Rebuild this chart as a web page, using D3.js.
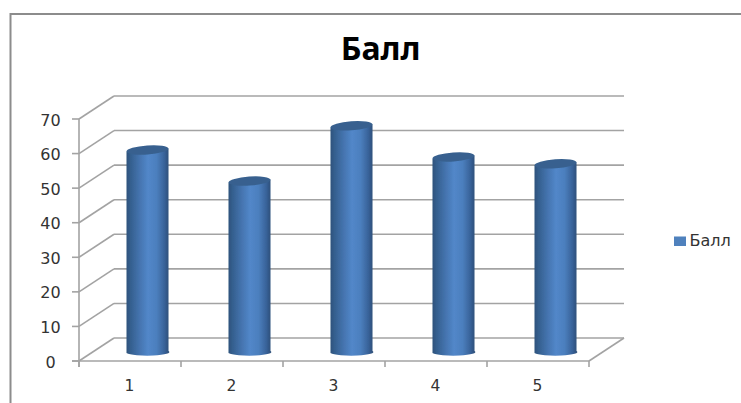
<!DOCTYPE html>
<html><head><meta charset="utf-8">
<script src="https://cdn.jsdelivr.net/npm/d3@7"></script>
<style>html,body{margin:0;padding:0;background:#fff}svg{display:block}</style>
</head><body><svg id="c" width="741" height="403"></svg>
<script>
const categories = ["1","2","3","4","5"];
const values = [58,49,65,56,54];
const yTicks = [0,10,20,30,40,50,60,70];
const seriesName = "Балл";

const svg = d3.select("#c");
const x = d3.scaleBand().domain(categories).range([79,589]);
const y = d3.scaleLinear().domain([0,70]).range([361,119]);
const dx = 35, dy = -23;
const grid = "#a3a3a3";
const defs = svg.append("defs");
const g = defs.append("linearGradient").attr("id","cyl");
[[0,"#2e517c"],[0.1,"#35608f"],[0.3,"#4473ae"],[0.5,"#5287c9"],[0.7,"#4c7fbe"],[0.88,"#38639a"],[1,"#2c4c75"]]
 .forEach(s=>g.append("stop").attr("offset",s[0]).attr("stop-color",s[1]));
const blur = defs.append("filter").attr("id","soft").attr("x","-10%").attr("y","-5%").attr("width","120%").attr("height","110%");
blur.append("feGaussianBlur").attr("stdDeviation",0.4);

svg.append("path").attr("d","M10.5,403V14H741").attr("fill","none").attr("stroke","#8c8c8c").attr("stroke-width",2);

svg.append("text").attr("x",380.5).attr("y",60).attr("text-anchor","middle")
 .attr("font-family","'Noto Sans'").attr("font-weight",700).attr("font-size",32).attr("fill","#000").text(seriesName);

const line=(a,b,c,d)=>svg.append("line").attr("x1",a).attr("y1",b).attr("x2",c).attr("y2",d).attr("stroke",grid).attr("stroke-width",1.6);
yTicks.forEach(t=>{
  const py=y(t);
  line(72,py,79,py);
  line(79,py,79+dx,py+dy);
  line(79+dx,py+dy,589+dx,py+dy);
  svg.append("text").attr("x",50.5).attr("y",py+6.5).attr("text-anchor","middle")
    .attr("font-family","'DejaVu Sans'").attr("font-size",16).attr("fill","#333").text(t);
});
line(79,119,79,367);
line(72,361,589,361);
line(589,361,589+dx,361+dy);
[...categories.map(c=>x(c)),589].forEach(px=>line(px,361,px,367));
categories.forEach(c=>svg.append("text").attr("x",x(c)+x.bandwidth()/2-0.5).attr("y",391).attr("text-anchor","middle")
    .attr("font-family","'DejaVu Sans'").attr("font-size",15.5).attr("fill","#333").text(c));

const bw=42, rx=21, ry=4.5, tilt=-4;
const cx=c=>x(c)+x.bandwidth()/2+dx/2;
const yv=v=>y(v)+dy/2+1;
const bars=svg.selectAll("g.bar").data(categories.map((c,i)=>({c,v:values[i]}))).join("g").attr("class","bar").attr("filter","url(#soft)");
bars.append("path").attr("fill","url(#cyl)").attr("d",d=>{
  const l=cx(d.c)-bw/2, r=l+bw, t=yv(d.v), b=yv(0)+1.5;
  return `M${l},${t+1.5}L${r},${t-1.5}L${r},${b-1}A${rx},3.5 0 0 1 ${l},${b+1}Z`;
});
bars.append("ellipse").attr("cx",d=>cx(d.c)).attr("cy",d=>yv(d.v)).attr("rx",rx).attr("ry",ry)
 .attr("fill","#38618f").attr("transform",d=>`rotate(${tilt} ${cx(d.c)} ${yv(d.v)})`);

svg.append("rect").attr("x",674).attr("y",236.5).attr("width",12).attr("height",9.5).attr("fill","#4f81bd");
svg.append("text").attr("x",689.5).attr("y",246).attr("font-family","'DejaVu Sans'").attr("font-size",16).attr("fill","#333").text(seriesName);
</script></body></html>
